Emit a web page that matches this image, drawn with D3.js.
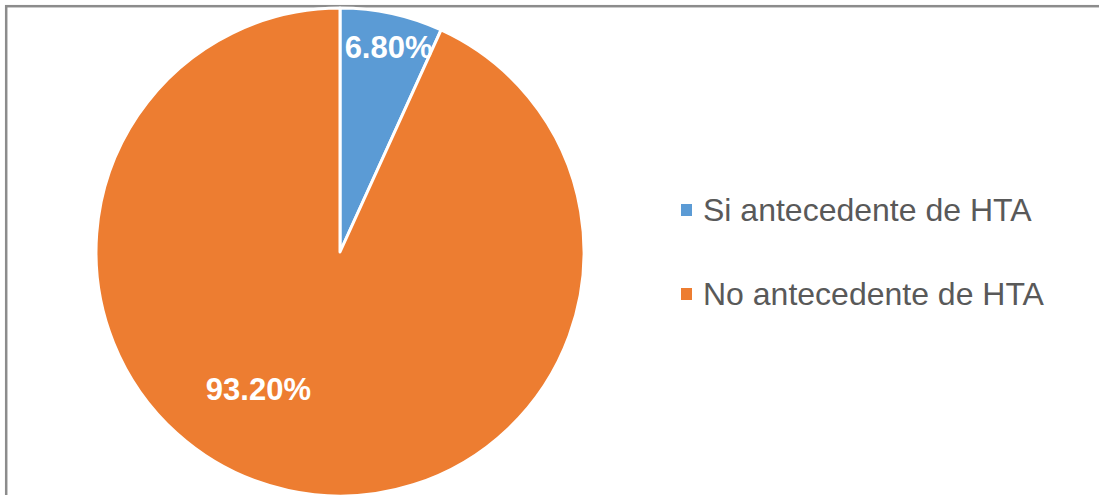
<!DOCTYPE html>
<html>
<head>
<meta charset="utf-8">
<script src="https://cdn.jsdelivr.net/npm/d3@7"></script>
<style>
  html, body { margin: 0; padding: 0; background: #fff; overflow: hidden; }
  svg { display: block; }
</style>
</head>
<body>
<svg id="chart" width="1099" height="495"></svg>
<script>
// Data
const categories = ["Si antecedente de HTA", "No antecedente de HTA"];
const values = [6.8, 93.2];
const labels = ["6.80%", "93.20%"];
const colors = ["#5B9BD5", "#ED7D31"];

const W = 1099, H = 495;
const svg = d3.select("#chart");

// Chart area border (extends past right/bottom edges)
svg.append("rect")
  .attr("x", 6.2).attr("y", 6.2)
  .attr("width", 1200).attr("height", 600)
  .attr("fill", "none")
  .attr("stroke", "#8c8c8c")
  .attr("stroke-width", 2.5);

const cx = 340, cy = 252, R = 244;
const g = svg.append("g").attr("transform", `translate(${cx},${cy})`);

const pie = d3.pie().sort(null).value(d => d);
const arcs = pie(values);
const arc = d3.arc().innerRadius(0).outerRadius(R);

g.selectAll("path.slice")
  .data(arcs)
  .enter().append("path")
  .attr("class", "slice")
  .attr("d", arc)
  .attr("fill", (d, i) => colors[i])
  .attr("stroke", "#ffffff")
  .attr("stroke-width", 3)
  .attr("stroke-linejoin", "round");

// Data labels: position by polar offsets from slice geometry
const labelPos = [
  { angle: (arcs[0].startAngle + arcs[0].endAngle) / 2 + 0.02, r: R * 0.86 },
  { angle: arcs[1].startAngle + (arcs[1].endAngle - arcs[1].startAngle) * 0.555, r: R * 0.655 }
];

g.selectAll("text.lbl")
  .data(arcs)
  .enter().append("text")
  .attr("class", "lbl")
  .attr("x", (d, i) => Math.sin(labelPos[i].angle) * labelPos[i].r)
  .attr("y", (d, i) => -Math.cos(labelPos[i].angle) * labelPos[i].r)
  .attr("text-anchor", "middle")
  .attr("dominant-baseline", "central")
  .attr("font-family", "Liberation Sans, Arial, sans-serif")
  .attr("font-weight", "bold")
  .attr("font-size", "31px")
  .attr("fill", "#ffffff")
  .text((d, i) => labels[i]);

// Legend
const legendY = d3.scaleBand().domain(categories).range([179, 347]).padding(0);
const legend = svg.append("g");
const items = legend.selectAll("g.item")
  .data(categories)
  .enter().append("g")
  .attr("class", "item")
  .attr("transform", d => `translate(0,${legendY(d) + legendY.bandwidth() / 2})`);

items.append("rect")
  .attr("x", 681).attr("y", -17)
  .attr("width", 11).attr("height", 12)
  .attr("fill", (d, i) => colors[i]);

items.append("text")
  .attr("x", 703)
  .attr("y", 0)
  .attr("font-family", "Liberation Sans, Arial, sans-serif")
  .attr("font-size", "32px")
  .attr("fill", "#595959")
  .text(d => d);
</script>
</body>
</html>
